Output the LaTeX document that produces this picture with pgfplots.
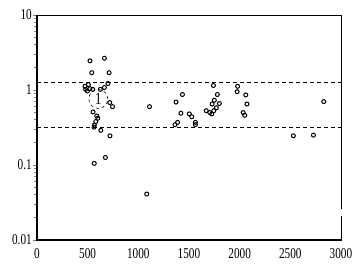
\documentclass[border=0pt]{standalone}
\usepackage{pgfplots}
\pgfplotsset{compat=1.18}
\usepackage{fontspec}
\setmainfont{Liberation Serif}
\newfontfamily\tickfont[FakeStretch=0.75]{Liberation Serif}
\pgfplotstableread{
x y
523 2.45
665 2.65
540 1.70
712 1.70
474 1.12
507 1.18
480 1.02
523 1.04
497 0.97
550 1.02
625 1.02
665 1.08
700 1.22
718 0.68
745 0.60
553 0.51
590 0.45
600 0.42
580 0.38
566 0.34
563 0.32
630 0.29
720 0.245
675 0.126
565 0.105
1110 0.60
1083 0.041
1435 0.87
1372 0.69
1420 0.49
1503 0.48
1527 0.44
1387 0.37
1362 0.345
1563 0.37
1563 0.345
1741 1.15
1780 0.87
1750 0.73
1728 0.65
1800 0.66
1770 0.58
1670 0.53
1705 0.50
1745 0.53
1725 0.48
1980 1.12
1975 0.95
2060 0.86
2072 0.65
2035 0.50
2050 0.46
2830 0.70
2530 0.245
2728 0.25
}\pts
\begin{document}
\begin{tikzpicture}
\useasboundingbox (-37pt,-24pt) rectangle (322pt,240pt);
\begin{axis}[
  at={(0,0)}, anchor=south west,
  width=304pt, height=225pt, scale only axis,
  xmin=0, xmax=3000, ymode=log, ymin=0.01, ymax=10,
  xtick={0,500,1000,1500,2000,2500,3000},
  xticklabels={0,500,1000,1500,2000,2500,3000},
  ytick={0.01,0.1,1,10},
  yticklabels={0.01,0.1,1,10},
  ticklabel style={font=\tickfont\fontsize{15}{15}\selectfont},
  tick align=outside,
  ytick pos=left, xtick pos=bottom,
  major tick length=4pt, minor tick length=2.5pt,
  xtick style={draw=none},
  ytick style={line width=0.8pt},
  yticklabel style={inner xsep=1pt},
  xticklabel style={yshift=-1pt},
  axis line style={line width=0.8pt},
  clip=false,
]
\addplot[black, line width=0.8pt, dash pattern=on 4pt off 3pt] coordinates {(0,1.26) (3000,1.26)};
\addplot[black, line width=0.8pt, dash pattern=on 4pt off 3pt] coordinates {(0,0.315) (3000,0.315)};
\addplot[only marks, mark=o, mark size=2pt, mark options={line width=1pt, black}] table[x=x,y=y] {\pts};
\node[draw, dashed, circle, minimum size=19pt, inner sep=0pt, line width=0.6pt, fill=white, fill opacity=0, text opacity=1, font=\tickfont\fontsize{17}{17}\selectfont] at (axis cs:605,0.76) {1};
\coordinate (tl) at (rel axis cs:0,1);
\coordinate (bl) at (rel axis cs:0,0);
\coordinate (br) at (rel axis cs:1,0);
\coordinate (g1) at (axis cs:3000,0.021);
\coordinate (g2) at (axis cs:3000,0.026);
\end{axis}
\draw[line width=1.6pt] (tl) -- (bl) -- (br);
\draw[white, line width=2pt] (g1) -- (g2);
\end{tikzpicture}
\end{document}
